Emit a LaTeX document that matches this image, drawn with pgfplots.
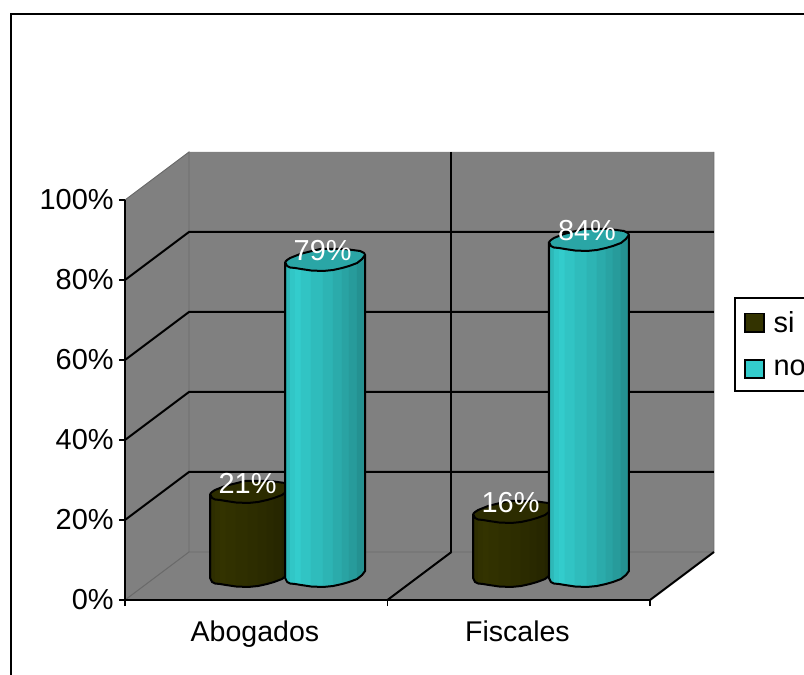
\documentclass[border=0pt]{standalone}
\usepackage{fontspec}
\setmainfont{Liberation Sans}
\usepackage{pgfplots}
\usepackage{pgfplotstable}
\pgfplotsset{compat=1.18}

% One pixel of the drawing is 0.75pt; one category spans 262.5 of them, 1% spans 4.
\definecolor{wall}{HTML}{808080}
\definecolor{wallline}{HTML}{6A6A6A}
\definecolor{noBase}{HTML}{33CCCC}
\definecolor{siBase}{HTML}{333300}
\definecolor{noTop}{HTML}{2AA6A6}
\definecolor{siTop}{HTML}{2C2C00}
\definecolor{noSep}{HTML}{3FC4C4}
\definecolor{siSep}{HTML}{55553A}

% Bars: left edge on the category scale, share in percent.
\pgfplotstableread{
pos   value  labelx  label
0.324 21     0.467   21\%
0.610 79     0.753   79\%
1.326 16     1.469   16\%
1.615 84     1.760   84\%
}\shares

% Outline of the cylinder: dx and dy in pixels, lvl 0 = base ring, 1 = top ring.
\pgfplotstableread{
dx dy  lvl
0  0   1
0  0   0
2  4   0
5  5.5 0
10 6   0
16 7   0
26 8.5 0
38 9   0
48 8   0
57 6   0
64 4   0
72 1   0
77 -3  0
80 -7  0
80 -7  1
}\silhouette

% Top ring of the cylinder.
\pgfplotstableread{
dx dy
0  0
2  4
5  5.5
10 6
16 7
26 8.5
38 9
48 8
57 6
64 4
72 1
77 -3
80 -7
79 -9
75 -11
60 -13
35 -13
15 -8
5 -4
2 -2
0 0
}\topring

\newcommand{\baselevel}{5.5}

% One vertical facet of a cylinder.
\newcommand{\facet}[6]{%
  \pgfmathsetmacro\xa{\barx+#1/262.5}%
  \pgfmathsetmacro\xb{\barx+#3/262.5}%
  \pgfmathsetmacro\yab{\baselevel-#2/4}%
  \pgfmathsetmacro\ybb{\baselevel-#4/4}%
  \pgfmathsetmacro\yat{\baselevel+\barv-#2/4}%
  \pgfmathsetmacro\ybt{\baselevel+\barv-#4/4}%
  \addplot[forget plot,fill=#5,draw=#5,line width=0.2pt]
    coordinates {(\xa,\yab)(\xb,\ybb)(\xb,\ybt)(\xa,\yat)} -- cycle;
  \addplot[forget plot,draw=#6,line width=0.35pt]
    coordinates {(\xb,\ybb)(\xb,\ybt)};
}

% Whole cylinder for one row of the table; #2 is noBase or siBase, #3 its separators, #4 its top.
\newcommand{\cylinder}[4]{%
  \pgfplotstablegetelem{#1}{pos}\of\shares\edef\barx{\pgfplotsretval}%
  \pgfplotstablegetelem{#1}{value}\of\shares\edef\barv{\pgfplotsretval}%
  \facet{0}{0}{2}{4}{#2!82!black}{#2!82!black}
  \facet{2}{4}{5}{5.5}{#2!90!black}{#3}
  \facet{5}{5.5}{10}{6}{#2!97!black}{#3}
  \facet{10}{6}{16}{7}{#2}{#3}
  \facet{16}{7}{26}{8.5}{#2!96!black}{#3}
  \facet{26}{8.5}{38}{9}{#2!92!black}{#3}
  \facet{38}{9}{48}{8}{#2!88!black}{#3}
  \facet{48}{8}{57}{6}{#2!84!black}{#3}
  \facet{57}{6}{64}{4}{#2!80!black}{#3}
  \facet{64}{4}{72}{1}{#2!76!black}{#3}
  \facet{72}{1}{80}{-7}{#2!71!black}{#2!71!black}
  \addplot[forget plot,draw=black,line width=1.5pt,line join=round]
    table[x expr=\barx+\thisrow{dx}/262.5,
          y expr=\baselevel+\thisrow{lvl}*\barv-\thisrow{dy}/4] {\silhouette};
  \addplot[forget plot,fill=#4,draw=black,line width=1.5pt,line join=round]
    table[x expr=\barx+\thisrow{dx}/262.5,
          y expr=\baselevel+\barv-\thisrow{dy}/4] {\topring};
}

\begin{document}
\begin{tikzpicture}[x=1pt,y=1pt]
\begin{axis}[
  scale only axis,
  width=393.75pt, height=300pt,
  xmin=0, xmax=2, ymin=0, ymax=100,
  clip=false,
  axis on top,
  axis x line*=bottom, axis y line*=left,
  axis line style={-,line width=1.5pt},
  every tick/.style={black,line width=1.3pt},
  tick align=outside,
  major tick length=4.5pt,
  xtick={0,1,2},
  x tick label as interval,
  xticklabels={Abogados,Fiscales},
  ytick={0,20,40,60,80,100},
  yticklabel={\pgfmathprintnumber{\tick}\%},
  /pgf/number format/assume math mode=true,
  tick label style={font=\fontsize{21.7}{26}\selectfont},
  y tick label style={xshift=-0.5pt},
  x tick label style={yshift=-7.5pt,xshift=-1pt,font=\fontsize{21.4}{26}\selectfont},
  legend style={
    at={(axis cs:2.32,75.75)}, anchor=north west,
    draw=black, line width=1.5pt, fill=white,
    font=\fontsize{21.7}{26}\selectfont,
    inner xsep=7pt, inner ysep=8pt,
    row sep=15.5pt,
    /tikz/every odd column/.style={column sep=4.5pt},
  },
  legend cell align=left,
  legend image code/.code={\draw[#1,line width=1.4pt] (0pt,-7pt) rectangle (14pt,7pt);},
]
% Walls and floor of the chart box.
\fill[wall] (axis cs:0,0) -- (axis cs:0,100) -- (axis cs:0.2438,112) -- (axis cs:2.2438,112)
  -- (axis cs:2.2438,12) -- (axis cs:2,0) -- cycle;
\draw[wallline,line width=0.7pt] (axis cs:0,100) -- (axis cs:0.2438,112) -- (axis cs:0.2438,12)
  -- (axis cs:2.2438,12) -- (axis cs:2.2438,112);
\draw[wallline,line width=0.8pt] (axis cs:0,0) -- (axis cs:0.2438,12);
% Grid on the back and side walls.
\foreach \v in {20,40,60,80}{
  \edef\tmp{\noexpand\draw[black,line width=1.5pt] (axis cs:0,\v) -- (axis cs:0.2438,\the\numexpr\v+12\relax) -- (axis cs:2.2438,\the\numexpr\v+12\relax);}
  \tmp
}
\draw[black,line width=1.5pt] (axis cs:1.2438,112) -- (axis cs:1.2438,12);
\draw[black,line width=1.5pt] (axis cs:1.2438,12) -- (axis cs:1,0);
\draw[black,line width=1.5pt] (axis cs:2,0) -- (axis cs:2.2438,12);

\cylinder{0}{siBase}{siSep}{siTop}
\cylinder{1}{noBase}{noSep}{noTop}
\cylinder{2}{siBase}{siSep}{siTop}
\cylinder{3}{noBase}{noSep}{noTop}

% Share labels above each cylinder.
\addplot[forget plot,only marks,mark=none,
  point meta=explicit symbolic,
  nodes near coords,
  every node near coord/.append style={white,anchor=center,inner sep=0pt,
    font=\fontsize{21.7}{26}\selectfont}]
  table[x=labelx,y expr=\baselevel+\thisrow{value}+2.75,meta=label] {\shares};

\addlegendimage{fill=siBase,draw=black}
\addlegendentry{si}
\addlegendimage{fill=noBase,draw=black}
\addlegendentry{no}

% Frame of the chart area, running off the right and bottom of the page.
\draw[black,line width=1.5pt] (axis cs:-0.4343,-25) -- (axis cs:-0.4343,146.5) -- (axis cs:2.7,146.5);
\coordinate (pageSW) at (axis cs:-0.47619,-18.75);
\coordinate (pageNE) at (axis cs:2.58667,150);
\end{axis}
\pgfresetboundingbox
\path[use as bounding box] (pageSW) rectangle (pageNE);
\end{tikzpicture}
\end{document}
